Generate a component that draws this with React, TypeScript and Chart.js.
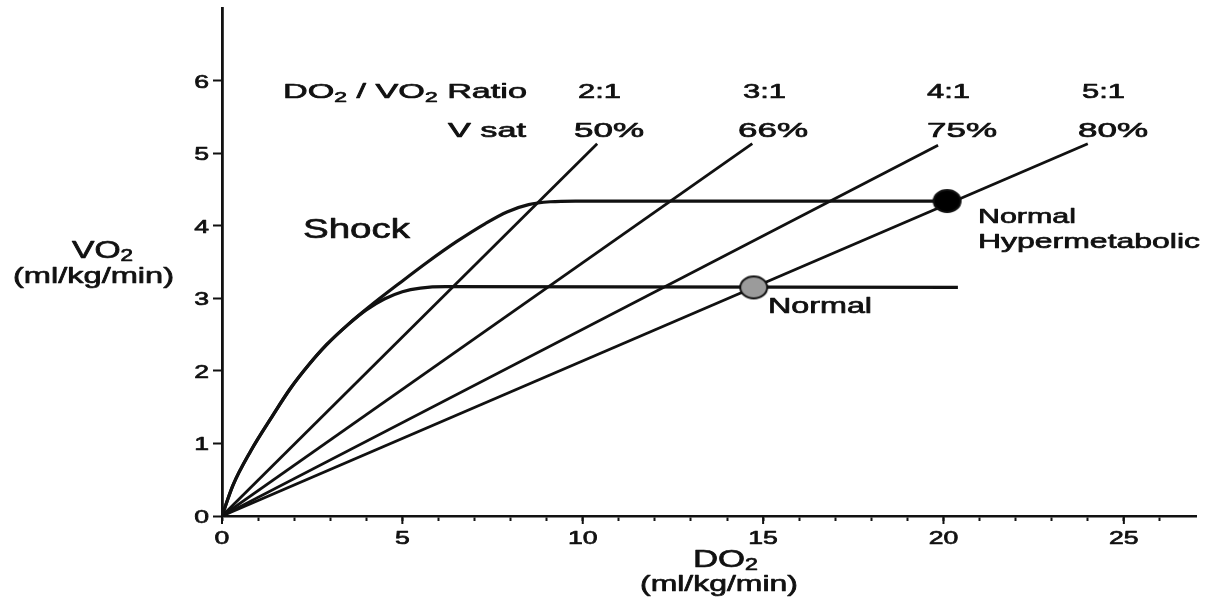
import React, { useEffect, useRef } from 'react';
import { Chart, registerables } from 'chart.js';
Chart.register(...registerables);

// ---- data ----
const ratioLabels = ['2:1', '3:1', '4:1', '5:1'];
const vSatLabels = ['50%', '66%', '75%', '80%'];
const ratioLineEndDO2 = [10.4, 14.7, 19.85, 24.0];
const ratioLineEndVO2 = [5.13, 5.13, 5.11, 5.13];

const hyperDO2 = [0, 0.3, 0.8, 1.4, 1.9, 2.4, 2.9, 3.5, 4.2, 4.9, 5.7, 6.5, 7.3, 7.9, 8.5, 9.1, 9.8, 20.1];
const hyperVO2 = [0, 0.42, 0.9, 1.38, 1.76, 2.08, 2.36, 2.64, 2.93, 3.2, 3.5, 3.78, 4.03, 4.19, 4.29, 4.33, 4.34, 4.34];

const normalDO2 = [0, 0.3, 0.8, 1.4, 1.9, 2.4, 2.9, 3.5, 4.0, 4.5, 5.0, 5.5, 6.2, 20.4];
const normalVO2 = [0, 0.42, 0.9, 1.38, 1.76, 2.08, 2.36, 2.64, 2.84, 2.99, 3.09, 3.14, 3.16, 3.15];

const pointNames = ['Normal', 'Normal Hypermetabolic'];
const pointDO2 = [14.74, 20.1];
const pointVO2 = [3.15, 4.34];

const xTickValues = [0, 5, 10, 15, 20, 25];
const xTickLabels = ['0', '5', '10', '15', '20', '25'];
const yTickValues = [0, 1, 2, 3, 4, 5, 6];
const yTickLabels = ['0', '1', '2', '3', '4', '5', '6'];

const FONT = "'Liberation Sans', Arial, Helvetica, sans-serif";
const INK = '#111';

type Part = [string, number, number?];

function drawRich(ctx: CanvasRenderingContext2D, parts: Part[], x: number, y: number, width: number, align: 'left' | 'center' | 'right' = 'left') {
  let natural = 0;
  for (const p of parts) {
    ctx.font = `${p[1]}px ${FONT}`;
    natural += ctx.measureText(p[0]).width;
  }
  const k = width / natural;
  const left = align === 'center' ? x - width / 2 : align === 'right' ? x - width : x;
  ctx.save();
  ctx.translate(left, y);
  ctx.scale(k, 1);
  ctx.textAlign = 'left';
  ctx.textBaseline = 'alphabetic';
  ctx.fillStyle = INK;
  ctx.strokeStyle = INK;
  ctx.lineWidth = 0.7;
  ctx.lineJoin = 'round';
  let cx = 0;
  for (const p of parts) {
    ctx.font = `${p[1]}px ${FONT}`;
    ctx.fillText(p[0], cx, p[2] || 0);
    ctx.strokeText(p[0], cx, p[2] || 0);
    cx += ctx.measureText(p[0]).width;
  }
  ctx.restore();
}

function drawStretched(ctx: CanvasRenderingContext2D, text: string, size: number, hs: number, x: number, y: number, align: 'left' | 'center' | 'right') {
  ctx.font = `${size}px ${FONT}`;
  const w = ctx.measureText(text).width * hs;
  drawRich(ctx, [[text, size]], x, y, w, align);
}

const textPlugin = {
  id: 'textPlugin',
  afterDraw(chart: any) {
    const ctx: CanvasRenderingContext2D = chart.ctx;
    const xs = chart.scales.x;
    const ys = chart.scales.y;
    ctx.save();
    // longer major ticks on x axis
    ctx.strokeStyle = INK;
    ctx.lineWidth = 2;
    for (const v of xTickValues) {
      const px = xs.getPixelForValue(v);
      ctx.beginPath();
      ctx.moveTo(px, ys.bottom);
      ctx.lineTo(px, ys.bottom + 8);
      ctx.stroke();
    }
    // tick labels
    xTickValues.forEach((v, i) => {
      drawStretched(ctx, xTickLabels[i], 19, 1.4, xs.getPixelForValue(v), ys.bottom + 28, 'center');
    });
    yTickValues.forEach((v, i) => {
      drawStretched(ctx, yTickLabels[i], 19, 1.4, xs.left - 13, ys.getPixelForValue(v) + 7, 'right');
    });
    // axis titles
    drawRich(ctx, [['VO', 24], ['2', 16, 3]], 72, 258, 61);
    drawRich(ctx, [['(ml/kg/min)', 22]], 13, 283, 161);
    drawRich(ctx, [['DO', 24], ['2', 16, 3]], 693, 567, 65);
    drawRich(ctx, [['(ml/kg/min)', 22]], 640, 591, 158);
    // header
    drawRich(ctx, [['DO', 21], ['2', 14, 4], [' / VO', 21], ['2', 14, 4], [' Ratio', 21]], 283, 98, 244);
    drawRich(ctx, [['V sat', 21]], 526, 137, 78, 'right');
    const ratioLefts = [578, 743, 927, 1082];
    const vSatLefts = [574, 738, 927, 1078];
    ratioLabels.forEach((t, i) => drawRich(ctx, [[t, 21]], ratioLefts[i], 98, 43));
    vSatLabels.forEach((t, i) => drawRich(ctx, [[t, 21]], vSatLefts[i], 137, 70));
    // annotations
    drawRich(ctx, [['Shock', 27]], 303, 238, 107);
    drawRich(ctx, [[pointNames[0], 22]], 768, 313, 104);
    const hyperWords = pointNames[1].split(' ');
    drawRich(ctx, [[hyperWords[0], 21]], 978, 223, 98);
    drawRich(ctx, [[hyperWords[1], 21]], 978, 248, 222);
    ctx.restore();
  },
};

export default function App() {
  const ref = useRef<HTMLCanvasElement>(null);
  useEffect(() => {
    const mk = (fill: string) => {
      const c = document.createElement('canvas');
      c.width = 31;
      c.height = 26;
      const g = c.getContext('2d')!;
      g.beginPath();
      g.ellipse(15.5, 13, 13.5, 11, 0, 0, Math.PI * 2);
      g.fillStyle = fill;
      g.fill();
      g.lineWidth = 2;
      g.strokeStyle = INK;
      g.stroke();
      return c;
    };
    const normalImg = mk('#9b9b9b');
    const hyperImg = mk('#000');

    const lineDs = (xsArr: number[], ysArr: number[], width: number, curved: boolean) => ({
      data: xsArr.map((x, i) => ({ x, y: ysArr[i] })),
      borderColor: INK,
      borderWidth: width,
      pointRadius: 0,
      fill: false,
      tension: 0,
      cubicInterpolationMode: curved ? 'monotone' : 'default',
      order: 1,
    });

    const datasets: any[] = [
      {
        data: pointDO2.map((x, i) => ({ x, y: pointVO2[i] })),
        showLine: false,
        pointStyle: [normalImg, hyperImg],
        pointRadius: 13,
        order: 0,
      },
      lineDs(hyperDO2, hyperVO2, 3.2, true),
      lineDs(normalDO2, normalVO2, 3.2, true),
      ...ratioLineEndDO2.map((x, i) => lineDs([0, x], [0, ratioLineEndVO2[i]], 2.8, false)),
    ];

    const chart = new Chart(ref.current!, {
      type: 'line',
      data: { datasets },
      options: {
        animation: false,
        responsive: true,
        maintainAspectRatio: false,
        layout: { autoPadding: false, padding: { left: 208, right: 12, top: 8, bottom: 72 } },
        plugins: { legend: { display: false }, tooltip: { enabled: false } },
        scales: {
          x: {
            type: 'linear',
            min: 0,
            max: 27,
            ticks: { stepSize: 1, display: false },
            afterBuildTicks: (s: any) => { s.ticks = s.ticks.filter((t: any) => t.value <= 26); },
            afterFit: (s: any) => { s.height = 14; },
            grid: { drawOnChartArea: false, drawTicks: true, tickLength: 5, tickWidth: 2, tickColor: INK },
            border: { display: true, color: INK, width: 2.5 },
          },
          y: {
            type: 'linear',
            min: 0,
            max: 7,
            ticks: { stepSize: 1, display: false },
            afterBuildTicks: (s: any) => { s.ticks = s.ticks.filter((t: any) => t.value <= 6); },
            afterFit: (s: any) => { s.width = 14; },
            grid: { drawOnChartArea: false, drawTicks: true, tickLength: 9, tickWidth: 2, tickColor: INK },
            border: { display: true, color: INK, width: 2.8 },
          },
        },
      } as any,
      plugins: [textPlugin],
    });
    return () => chart.destroy();
  }, []);
  return (
    <div style={{ position: 'absolute', left: 0, top: 0, width: 1208, height: 602, background: '#fff' }}>
      <canvas ref={ref} />
    </div>
  );
}
